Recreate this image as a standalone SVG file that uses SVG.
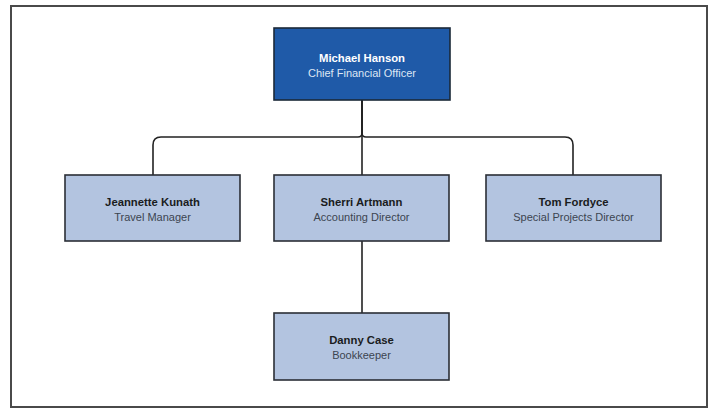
<svg xmlns="http://www.w3.org/2000/svg" width="715" height="409" viewBox="0 0 715 409">
<style>
.node{fill:#b3c4e0;stroke:#2b2f36;stroke-width:1.6}
.top{fill:#1f5aa8;stroke:#1b2838;stroke-width:1.6}
.name{font-family:"Liberation Sans",Arial,sans-serif;font-size:11.3px;font-weight:bold;fill:#1a1c20;text-anchor:middle}
.role{font-family:"Liberation Sans",Arial,sans-serif;font-size:11px;fill:#3c4450;text-anchor:middle}
.top-name{fill:#ffffff}
.top-role{fill:#dce6f4}
.conn{fill:none;stroke:#222;stroke-width:1.6}
</style>
<rect x="0" y="0" width="715" height="409" fill="#ffffff"/>
<rect x="11" y="6" width="696" height="401" fill="#ffffff" stroke="#4a4a4a" stroke-width="2"/>
<g id="connectors">
<path class="conn" d="M362,100 V133 Q362,137 358,137 H161 Q153,137 153,145 V175"/>
<path class="conn" d="M362,100 V133 Q362,137 366,137 H565 Q573,137 573,145 V175"/>
<path class="conn" d="M362,100 V175"/>
<path class="conn" d="M362,241 V313"/>
</g>
<g id="michael-hanson">
<rect class="top" x="274" y="28" width="176" height="72"/>
<text class="name top-name" x="362" y="61.5">Michael Hanson</text>
<text class="role top-role" x="362" y="77">Chief Financial Officer</text>
</g>
<g id="jeannette-kunath">
<rect class="node" x="65" y="175" width="175" height="66"/>
<text class="name" x="152.5" y="205.5">Jeannette Kunath</text>
<text class="role" x="152.5" y="220.5">Travel Manager</text>
</g>
<g id="sherri-artmann">
<rect class="node" x="274" y="175" width="175" height="66"/>
<text class="name" x="361.5" y="205.5">Sherri Artmann</text>
<text class="role" x="361.5" y="220.5">Accounting Director</text>
</g>
<g id="tom-fordyce">
<rect class="node" x="486" y="175" width="175" height="66"/>
<text class="name" x="573.5" y="205.5">Tom Fordyce</text>
<text class="role" x="573.5" y="220.5">Special Projects Director</text>
</g>
<g id="danny-case">
<rect class="node" x="274" y="313" width="175" height="67"/>
<text class="name" x="361.5" y="344">Danny Case</text>
<text class="role" x="361.5" y="359">Bookkeeper</text>
</g>
</svg>
